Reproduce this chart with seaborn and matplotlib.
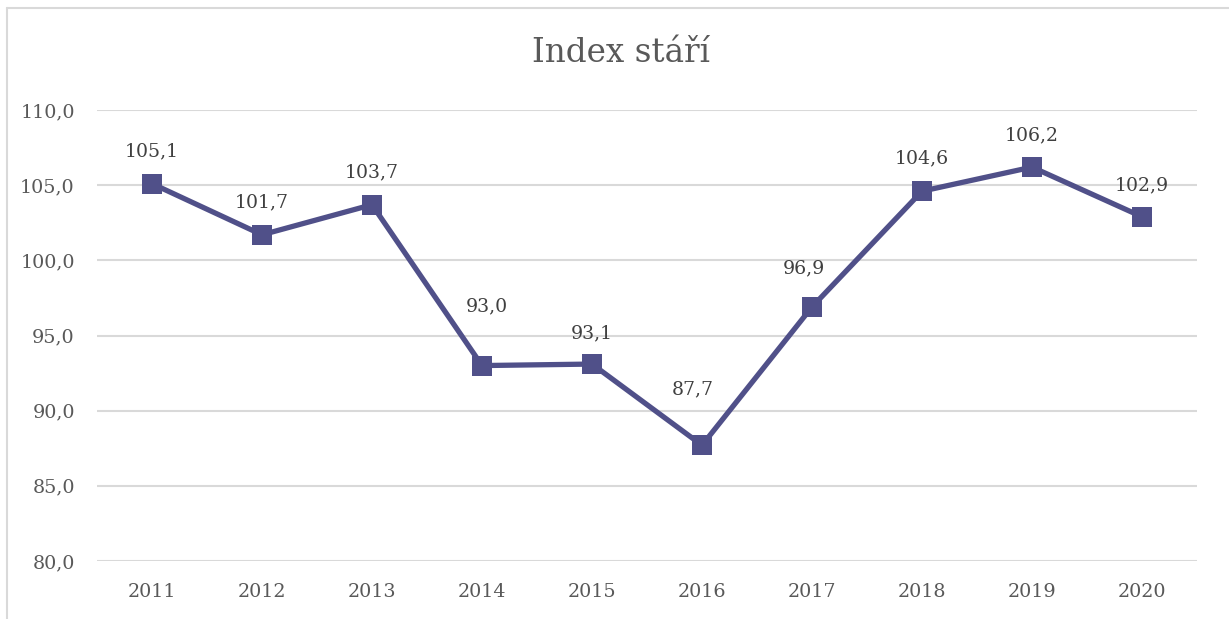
import matplotlib
matplotlib.use("Agg")
import matplotlib.pyplot as plt
import seaborn as sns
import pandas as pd
from matplotlib.lines import Line2D

# data
years = ["2011", "2012", "2013", "2014", "2015", "2016", "2017", "2018", "2019", "2020"]
index_values = [105.1, 101.7, 103.7, 93.0, 93.1, 87.7, 96.9, 104.6, 106.2, 102.9]
y_ticks = [80, 85, 90, 95, 100, 105, 110]

# label offsets in pixels (some labels were moved by hand in the original)
label_dx = [0, 0, 0, 5, 0, -9, -8, 0, 0, 0]
label_dy = [32, 32, 32, 59, 31, 56, 39, 33, 32, 31]

df = pd.DataFrame({"rok": years, "index": index_values})

sns.set_theme(style="white")
plt.rcParams["font.family"] = ["DejaVu Serif"]

line_color = "#505089"
text_color = "#595959"
grid_color = "#d9d9d9"

fig = plt.figure(figsize=(12.29, 6.19), dpi=100)
ax = fig.add_axes([97 / 1229, 1 - 561 / 619, 1100 / 1229, 451 / 619])

for t in y_ticks:
    ax.axhline(t, color=grid_color, lw=1.5, zorder=0)

sns.lineplot(data=df, x="rok", y="index", ax=ax, color=line_color, lw=3.8,
             marker="s", markersize=14, markeredgewidth=0, sort=False)

px = 72 / 100
for i, v in enumerate(index_values):
    ax.annotate(f"{v:.1f}".replace(".", ","), (i, v),
                xytext=(label_dx[i] * px, label_dy[i] * px),
                textcoords="offset points", ha="center", va="center",
                fontsize=13.6, color="#404040")

ax.set_xlim(-0.5, len(years) - 0.5)
ax.set_ylim(80, 110)
ax.set_yticks(y_ticks)
ax.set_yticklabels([f"{t:.1f}".replace(".", ",") for t in y_ticks])
ax.tick_params(axis="both", length=0, labelsize=13.8, labelcolor=text_color)
ax.tick_params(axis="y", pad=16)
ax.tick_params(axis="x", pad=16)
ax.set_xlabel("")
ax.set_ylabel("")
for s in ax.spines.values():
    s.set_visible(False)

fig.text(621 / 1229, 1 - 62 / 619, "Index stáří", ha="center", va="baseline",
         fontsize=23.5, color=text_color)

# chart frame (top and left edges visible)
fig.add_artist(Line2D([7 / 1229, 7 / 1229], [0, 1 - 8 / 619], transform=fig.transFigure,
                      color=grid_color, lw=1.5))
fig.add_artist(Line2D([7 / 1229, 1], [1 - 8 / 619, 1 - 8 / 619], transform=fig.transFigure,
                      color=grid_color, lw=1.5))

fig.savefig("out.png", dpi=100, facecolor="white")
